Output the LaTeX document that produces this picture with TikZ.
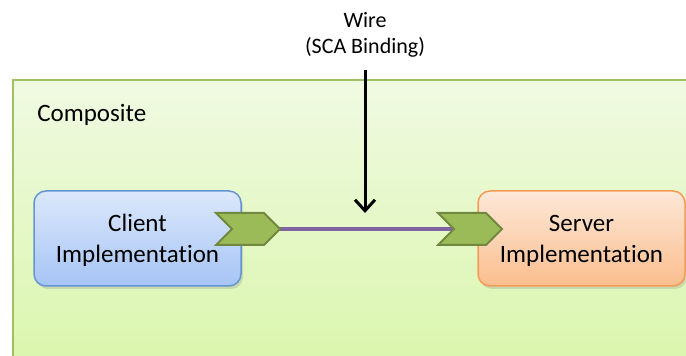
\documentclass[tikz,border=0pt]{standalone}
\usepackage{fontspec}
\setmainfont{Carlito}[Ligatures={NoCommon}]
\usetikzlibrary{shapes.symbols, arrows.meta, shadows, backgrounds}
\definecolor{compfill}{RGB}{240, 250, 226}
\definecolor{compfilldark}{RGB}{218, 246, 172}
\definecolor{compline}{RGB}{160, 192, 100}
\definecolor{clienttop}{RGB}{220, 232, 252}
\definecolor{clientbot}{RGB}{166, 196, 245}
\definecolor{clientline}{RGB}{100, 150, 212}
\definecolor{servertop}{RGB}{253, 232, 216}
\definecolor{serverbot}{RGB}{250, 190, 142}
\definecolor{serverline}{RGB}{245, 155, 85}
\definecolor{portgreen}{RGB}{155, 187, 89}
\definecolor{portline}{RGB}{113, 137, 63}
\definecolor{wirepurple}{RGB}{128, 100, 162}

\begin{document}
\begin{tikzpicture}[
  x=0.5pt, y=-0.5pt,
  implbox/.style={rounded corners=6pt, line width=0.75pt, minimum width=103.5pt, minimum height=47.5pt,
    align=center, font=\fontsize{12.5}{15.5}\selectfont, text depth=0pt,
    drop shadow={opacity=0.25, shadow xshift=1pt, shadow yshift=-1.5pt}},
  portchev/.style={signal, signal from=west, signal to=east, signal pointer angle=90,
    fill=portgreen, draw=portline, line width=1pt, minimum width=32pt, minimum height=16pt, inner sep=0pt},
  wireline/.style={wirepurple, line width=2pt},
  lbl/.style={font=\fontsize{12.5}{15.5}\selectfont, anchor=west, inner sep=0pt}
]
  \clip (0,0) rectangle (686,356);

  \node[lbl] (comp) at (37,115) {Composite};

  \node[implbox, draw=clientline, top color=clienttop, bottom color=clientbot] (client) at (137.5,238.5)
    {Client\\Implementation};
  \node[implbox, draw=serverline, top color=servertop, bottom color=serverbot] (server) at (581.5,238.5)
    {Server\\Implementation};

  \node[portchev] (cport) at (248,229) {};
  \node[portchev] (sport) at (470,229) {};

  \node[align=center, font=\fontsize{11}{13}\selectfont, inner sep=0pt] (wire) at (365,35)
    {Wire\\(SCA Binding)};
  \coordinate (wireend) at (365,213);
  \draw[line width=1.5pt, -{Straight Barb[length=5.5pt, width=10pt, line width=1.5pt]}] ([yshift=-6pt]wire.south) -- (wireend);

  \begin{pgfonlayer}{background}
    \draw[compline, line width=0.75pt, top color=compfill, bottom color=compfilldark] (13,80) rectangle (700,370);
    \draw[wireline] (cport.center) -- (sport.center);
  \end{pgfonlayer}
\end{tikzpicture}
\end{document}
